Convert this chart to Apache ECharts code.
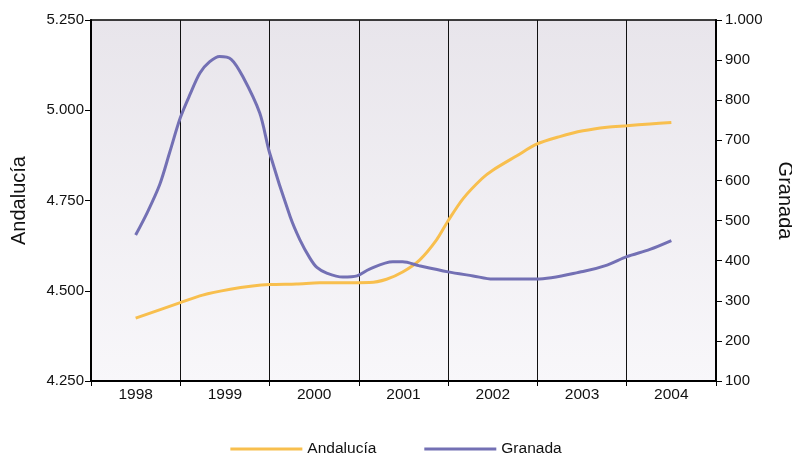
<!DOCTYPE html>
<html>
<head>
<meta charset="utf-8">
<script src="https://cdn.jsdelivr.net/npm/echarts@6/dist/echarts.min.js"></script>
<style>html,body{margin:0;padding:0;background:#fff}#c{width:792px;height:455px}</style>
</head>
<body>
<div id="c"></div>
<script>
var years = ['1998','1999','2000','2001','2002','2003','2004'];

var andaluciaT = [1998.00,1998.50,1998.75,1999.06,1999.31,1999.50,1999.80,2000.06,2000.62,2000.81,2000.99,2001.18,2001.37,2001.50,2001.67,2001.88,2002.00,2002.27,2002.49,2002.75,2003.01,2003.28,2003.50,2003.76,2004.00];
var andaluciaV = [4424,4467,4488,4504,4513,4517,4519,4522,4523,4532,4552,4585,4641,4694,4756,4811,4834,4874,4906,4927,4943,4953,4957,4962,4966];

var granadaT = [1998.00,1998.13,1998.27,1998.38,1998.50,1998.61,1998.72,1998.83,1998.94,1999.07,1999.20,1999.39,1999.50,1999.73,1999.84,1999.95,2000.03,2000.14,2000.32,2000.48,2000.62,2000.88,2000.99,2001.18,2001.50,2001.78,2002.00,2002.49,2003.01,2003.28,2003.50,2003.76,2004.00];
var granadaV = [464,520,590,669,756,815,868,896,909,902,859,768,669,510,452,407,383,369,359,362,379,397,397,387,372,362,354,354,373,389,410,428,450];

function pairs(t, v){ var out=[]; for (var i=0;i<t.length;i++) out.push([t[i], v[i]]); return out; }
function fmt(v){ var s=String(Math.round(v)); return s.replace(/\B(?=(\d{3})+(?!\d))/g,'.'); }

var font = 'Liberation Sans, Arial, sans-serif';
var chart = echarts.init(document.getElementById('c'), null, {renderer:'canvas'});
chart.setOption({
  animation:false,
  textStyle:{fontFamily:font},
  grid:{left:91,right:76,top:20,bottom:74,outerBoundsMode:'none',containLabel:false,
    show:true,borderColor:'#000',borderWidth:1.5,
    backgroundColor:new echarts.graphic.LinearGradient(0,0,0,1,[{offset:0,color:'#e8e5eb'},{offset:1,color:'#f8f7fa'}])},
  legend:{top:436,left:'center',icon:'rect',itemWidth:72,itemHeight:3,itemGap:48,
    textStyle:{fontFamily:font,fontSize:15.5,color:'#111'},
    data:['Andalucía','Granada']},
  xAxis:[
    {type:'category',data:years,boundaryGap:true,position:'bottom',
     axisLine:{lineStyle:{color:'#000',width:2}},
     axisTick:{show:true,length:5,lineStyle:{color:'#000'}},
     axisLabel:{color:'#111',fontSize:15.5,fontFamily:font,margin:6},
     splitLine:{show:true,lineStyle:{color:'#111',width:1}}},
    {type:'value',min:1997.5,max:2004.5,show:false,splitLine:{show:false}}
  ],
  yAxis:[
    {type:'value',min:4250,max:5250,interval:250,position:'left',
     name:'Andalucía',nameLocation:'middle',nameGap:62,nameRotate:90,
     nameTextStyle:{fontSize:20,color:'#111',fontFamily:font},
     axisLine:{show:true,lineStyle:{color:'#000',width:2}},
     axisTick:{show:true,length:6,lineStyle:{color:'#000'}},
     axisLabel:{color:'#111',fontSize:15,fontFamily:font,margin:7,formatter:fmt},
     splitLine:{show:false}},
    {type:'value',min:100,max:1000,interval:100,position:'right',
     name:'Granada',nameLocation:'middle',nameGap:59,nameRotate:-90,
     nameTextStyle:{fontSize:20,color:'#111',fontFamily:font},
     axisLine:{show:true,lineStyle:{color:'#000',width:2}},
     axisTick:{show:true,length:6,lineStyle:{color:'#000'}},
     axisLabel:{color:'#111',fontSize:15,fontFamily:font,margin:9,formatter:fmt},
     splitLine:{show:false}}
  ],
  series:[
    {name:'Andalucía',type:'line',xAxisIndex:1,yAxisIndex:0,data:pairs(andaluciaT,andaluciaV),
     showSymbol:false,smooth:0.3,lineStyle:{color:'#f8bf4e',width:3},itemStyle:{color:'#f8bf4e'}},
    {name:'Granada',type:'line',xAxisIndex:1,yAxisIndex:1,data:pairs(granadaT,granadaV),
     showSymbol:false,smooth:0.3,lineStyle:{color:'#7370b4',width:3},itemStyle:{color:'#7370b4'}}
  ]
});
</script>
</body>
</html>
